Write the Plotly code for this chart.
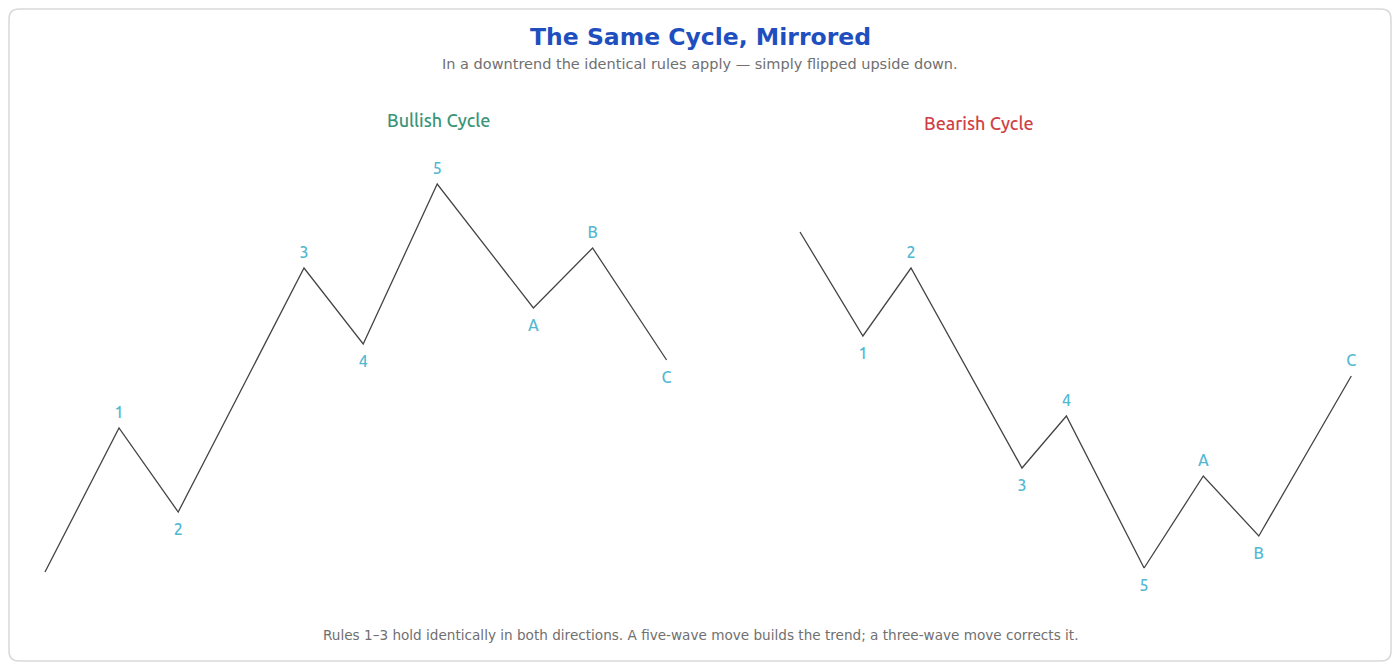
import plotly.graph_objects as go


# ==========================================================
# Data (wave points, arbitrary price / time units)
# ==========================================================
bull_time = [0, 10, 18, 35, 43, 53, 66, 74, 84]
bull_price = [10, 46, 25, 86, 67, 107, 76, 91, 63]
bull_labels = ["", "1", "2", "3", "4", "5", "A", "B", "C"]

bear_time = [0, 8.5, 15, 30, 36, 46.5, 54.5, 62, 74.5]
bear_price = [95, 69, 86, 36, 49, 11, 34, 19, 59]
bear_labels = ["", "1", "2", "3", "4", "5", "A", "B", "C"]

TITLE = "The Same Cycle, Mirrored"
SUBTITLE = "In a downtrend the identical rules apply \u2014 simply flipped upside down."
FOOTER = ("Rules 1\u20133 hold identically in both directions. "
          "A five-wave move builds the trend; a three-wave move corrects it.")

LINE = "#444444"
LABEL = "#52b8d2"
LABEL_FONT = "Ubuntu, Noto Sans, sans-serif"

W, H = 1384.0, 654.0


def label_positions(prices):
    # first point has no label, then peaks get text above, troughs below
    pos = ["top center"]
    for i in range(1, len(prices)):
        pos.append("top center" if prices[i] > prices[i - 1] else "bottom center")
    return pos


def label_pads(prices):
    # invisible marker size controls text gap; peaks need a little less
    return [8 if p == "top center" else 16 for p in label_positions(prices)]


def wave_trace(t, p, labels, xaxis, name):
    return go.Scatter(
        x=t,
        y=p,
        mode="lines+markers+text",
        text=labels,
        textposition=label_positions(p),
        textfont=dict(family=LABEL_FONT, size=16, color=LABEL, weight=500),
        line=dict(color=LINE, width=1.3),
        marker=dict(size=label_pads(p), color="rgba(0,0,0,0)",
                    line=dict(width=0, color="rgba(0,0,0,0)")),
        hoverinfo="skip",
        xaxis=xaxis,
        yaxis="y",
        name=name
    )


fig = go.Figure()
fig.add_trace(wave_trace(bull_time, bull_price, bull_labels, "x", "Bullish"))
fig.add_trace(wave_trace(bear_time, bear_price, bear_labels, "x2", "Bearish"))

# rounded card border in paper coords
r = 10.0
x0, y0, x1, y1 = 1 / W, 1 / H, 1 - 1 / W, 1 - 1 / H
rx, ry = r / W, r / H
card = (
    f"M {x0 + rx},{y0} L {x1 - rx},{y0} Q {x1},{y0} {x1},{y0 + ry} "
    f"L {x1},{y1 - ry} Q {x1},{y1} {x1 - rx},{y1} "
    f"L {x0 + rx},{y1} Q {x0},{y1} {x0},{y1 - ry} "
    f"L {x0},{y0 + ry} Q {x0},{y0} {x0 + rx},{y0} Z"
)


def note(text, x, y, size, color, family="DejaVu Sans", weight=400):
    return dict(text=text, x=x / W, y=1 - y / H, xref="paper", yref="paper",
                xanchor="center", yanchor="middle", showarrow=False,
                font=dict(family=family, size=size, color=color, weight=weight))


fig.update_layout(
    width=W,
    height=H,
    margin=dict(l=0, r=0, t=0, b=0),
    paper_bgcolor="white",
    plot_bgcolor="white",
    showlegend=False,
    xaxis=dict(range=[-37 / 7.4, (W - 37) / 7.4], visible=False, fixedrange=True),
    xaxis2=dict(range=[-792 / 7.4, (W - 792) / 7.4], visible=False, overlaying="x",
                fixedrange=True),
    yaxis=dict(range=[10 - (H - 564) / 4, 10 + 564 / 4], visible=False, fixedrange=True),
    shapes=[dict(type="path", path=card, xref="paper", yref="paper",
                 line=dict(color="#d9d9d9", width=1.5), layer="below")],
    annotations=[
        note(f"<b>{TITLE}</b>", 692, 29, 23.5, "#1f4fbf"),
        note(SUBTITLE, 692, 56, 14.5, "#707070"),
        note("Bullish Cycle", 431, 112, 18, "#3a9478", LABEL_FONT, 500),
        note("Bearish Cycle", 971, 115, 18, "#cf3f45", LABEL_FONT, 500),
        note(FOOTER, 692, 627, 13.6, "#707070"),
    ]
)

fig.write_html("out.html")
